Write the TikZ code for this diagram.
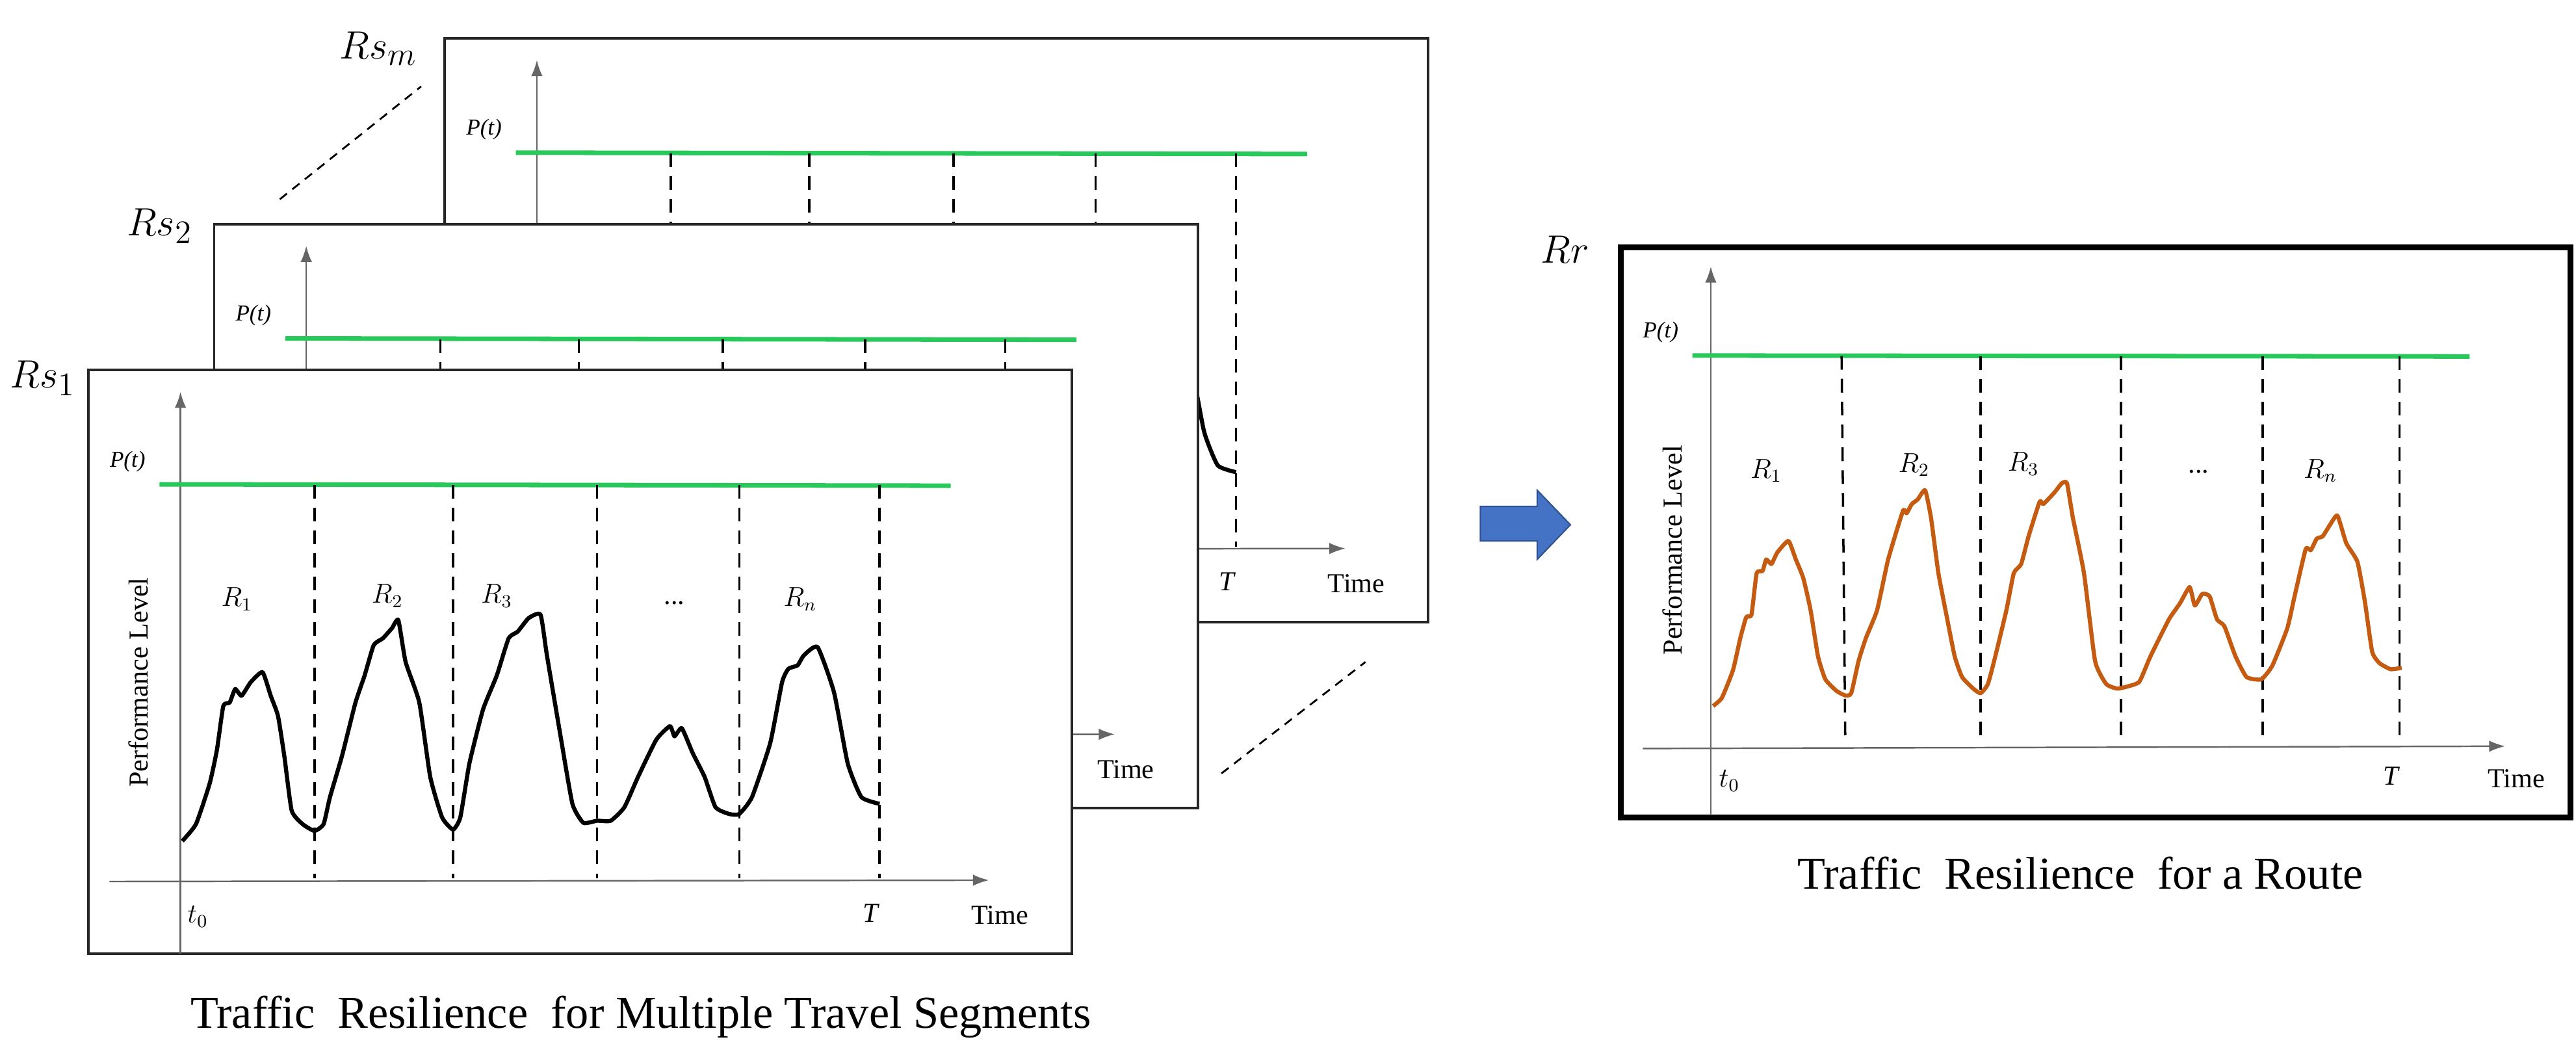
\documentclass[tikz,border=0pt]{standalone}
\usepackage{fontspec}
\setmainfont{Liberation Serif}
\usetikzlibrary{arrows.meta}
\definecolor{gline}{RGB}{40,200,90}
\definecolor{orng}{RGB}{197,90,17}
\definecolor{barrow}{RGB}{68,114,196}
\definecolor{barrowd}{RGB}{47,82,143}
\tikzset{
 frame/.style={draw=black!85,line width=1.1pt,fill=white},
 axis/.style={draw=black!60,line width=0.7pt,-{Latex[length=7pt,width=5pt]}},
 gl/.style={draw=gline,line width=2pt},
 dsh/.style={draw=black,line width=1pt,dash pattern=on 6pt off 4pt},
 lbl/.style={inner sep=0pt,font=\fontsize{12}{14}\selectfont},
 big/.style={inner sep=0pt,font=\fontsize{19}{22}\selectfont},
 title/.style={inner sep=0pt,font=\fontsize{20}{24}\selectfont},
 chart/.pic={
  \path[frame] (97,548) rectangle (1176,1412);
  \draw[axis] (198,1412) -- (198,580);
  \draw[axis] (120,1305) -- (1085,1303);
  \draw[gl] (175,717) -- (1043,719);
  \foreach \x in {345,497,655,811,965} \draw[dsh] (\x,718) -- (\x,1300);
  \draw[line width=1.8pt,black,line join=round] plot[smooth,tension=0.3] coordinates {
  (200,1245)(215,1220)(230,1160)(238,1110)(245,1045)(252,1040)(258,1020)(265,1030)(275,1010)(288,995)(297,1030)(305,1060)(312,1120)(320,1200)(332,1220)(345,1230)(355,1220)(362,1180)(375,1120)(390,1040)(400,1000)(410,955)(420,945)(430,930)(437,918)(445,980)(460,1040)(472,1150)(485,1210)(497,1228)(505,1210)(515,1130)(530,1050)(545,1000)(558,945)(568,935)(580,915)(593,910)(600,970)(615,1090)(628,1190)(640,1218)(655,1215)(670,1215)(685,1195)(700,1150)(720,1095)(735,1075)(740,1090)(748,1078)(760,1115)(773,1150)(785,1195)(800,1205)(811,1205)(825,1180)(845,1100)(858,1010)(865,990)(875,985)(882,970)(897,958)(915,1025)(930,1130)(945,1180)(965,1190)};
  \node[lbl,font=\fontsize{10}{12}\selectfont\itshape] (pt) at (140,683) {P(t)};
  \node[lbl,rotate=90] (pl) at (152,1010) {Performance Level};
  \node[lbl] (t0) at (217,1357) {$t_0$};
  \node[lbl] (T) at (955,1352) {\itshape T};
  \node[lbl] (time) at (1097,1355) {Time};
  \node[lbl] (r1) at (260,887) {$R_1$};
  \node[lbl] (r2) at (425,882) {$R_2$};
  \node[lbl] (r3) at (545,882) {$R_3$};
  \node[lbl] (dots) at (740,893) {...};
  \node[lbl] (rn) at (878,887) {$R_n$};
 }
}
\begin{document}
\begin{tikzpicture}
\useasboundingbox (0,0) rectangle (39.63,16.29);
% left group, zoom-1 coordinates
\begin{scope}[shift={(0,16.29)},x=0.01403cm,y=-0.01039cm]
 \pic (cm) at (391,-491) {chart};
 \pic (c2) at (138,-216) {chart};
 \pic (c1) at (0,0) {chart};
 \node[big] (lm) at (415,72) {$Rs_m$};
 \node[big] (l2) at (175,335) {$Rs_2$};
 \node[big] (l1) at (47,560) {$Rs_1$};
 \coordinate (d1a) at (307,295); \coordinate (d1b) at (462,128);
 \coordinate (d2a) at (1340,1145); \coordinate (d2b) at (1498,980);
 \draw[line width=0.8pt,dash pattern=on 4pt off 3pt] (d1a) -- (d1b);
 \draw[line width=0.8pt,dash pattern=on 4pt off 3pt] (d2a) -- (d2b);
 \node[title] (tl) at (703,1505) {Traffic\ \ Resilience\ \ for Multiple Travel Segments};
\end{scope}
% right group, zoom-2 coordinates
\begin{scope}[shift={(22,13.29)},x=0.01137cm,y=-0.0071cm]
 \draw[fill=barrow,draw=barrowd,line width=0.6pt] (68,675) -- (145,675) -- (145,640) -- (190,715) -- (145,790) -- (145,750) -- (68,750) -- cycle;
 \draw[black,line width=2.6pt] (258,113) rectangle (1543,1350);
 \draw[axis] (380,1345) -- (380,155);
 \draw[axis] (288,1200) -- (1455,1195);
 \draw[gl] (355,348) -- (1407,350);
 \foreach \x/\y in {557/562,745/745,935/935,1127/1127,1312/1312} \draw[dsh] (\x,349) -- (\y,1188);
 \draw[line width=1.8pt,orng,line join=round] plot[smooth,tension=0.3] coordinates {
 (383,1108)(395,1090)(410,1030)(420,960)(428,915)(435,910)(442,820)(450,815)(455,790)(462,800)(470,775)(485,750)(495,790)(505,830)(515,900)(525,1000)(535,1050)(550,1075)(562,1085)(570,1080)(580,1010)(590,960)(605,900)(620,790)(640,685)(645,690)(652,670)(660,660)(670,640)(678,700)(688,820)(700,920)(710,1000)(720,1045)(735,1070)(745,1080)(755,1060)(765,1000)(780,900)(790,820)(800,800)(810,740)(825,665)(830,670)(845,645)(855,625)(862,625)(870,700)(885,820)(900,1010)(915,1060)(930,1070)(945,1065)(960,1055)(975,1000)(1000,920)(1015,885)(1028,850)(1035,890)(1045,865)(1055,870)(1065,920)(1075,935)(1090,1000)(1105,1045)(1125,1050)(1140,1020)(1160,940)(1170,870)(1185,768)(1192,770)(1200,745)(1208,740)(1218,715)(1228,695)(1240,755)(1255,795)(1265,880)(1275,990)(1285,1015)(1300,1028)(1315,1025)};
 \node[lbl,font=\fontsize{10}{12}\selectfont\itshape] (rpt) at (312,298) {P(t)};
 \node[lbl,rotate=90] (rpl) at (328,770) {Performance Level};
 \node[lbl] (rt0) at (405,1270) {$t_0$};
 \node[lbl] (rT) at (1300,1260) {\itshape T};
 \node[lbl] (rtime) at (1470,1265) {Time};
 \node[lbl] (rr1) at (455,598) {$R_1$};
 \node[lbl] (rr2) at (655,585) {$R_2$};
 \node[lbl] (rr3) at (803,583) {$R_3$};
 \node[lbl] (rdots) at (1040,600) {...};
 \node[lbl] (rrn) at (1205,598) {$R_n$};
 \node[big] (lr) at (183,118) {$Rr$};
 \node[title] (tr) at (880,1470) {Traffic\ \ Resilience\ \ for a Route};
\end{scope}
\end{tikzpicture}
\end{document}
